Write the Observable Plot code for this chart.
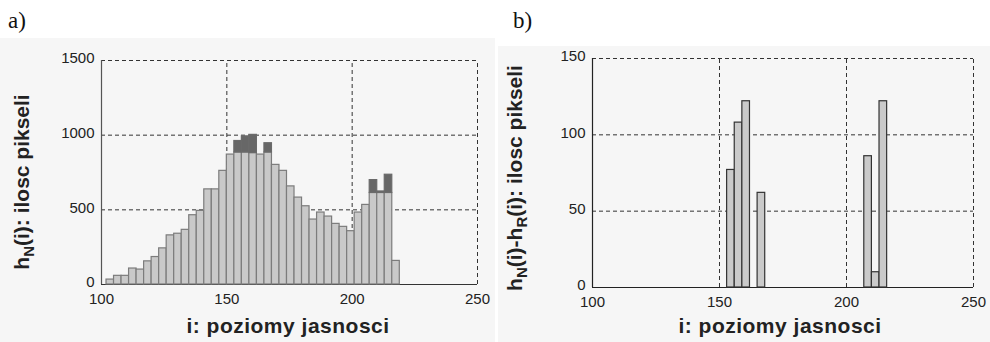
<!DOCTYPE html>
<html><head><meta charset="utf-8">
<script src="https://cdn.jsdelivr.net/npm/d3@7"></script>
<script src="https://cdn.jsdelivr.net/npm/@observablehq/plot@0.6"></script>
<style>
body{margin:0;background:#fff;}
#wrap{position:relative;width:990px;height:342px;overflow:hidden;background:#fff;}
.lab{position:absolute;font-family:"Liberation Serif","Times New Roman",serif;font-size:23px;color:#111;line-height:1;}
.panel{position:absolute;}
</style></head><body>
<div id="wrap">
<div class="lab" style="left:8px;top:9px">a)</div>
<div class="lab" style="left:513px;top:9px">b)</div>
<div class="panel" id="pa" style="left:0px;top:38px"></div>
<div class="panel" id="pb" style="left:498px;top:46px"></div>
</div>
<script>
// grey-level bins (start of each bin, width 3)
const binStart = [102,105,108,111,114,117,120,123,126,129,132,135,138,141,144,147,150,153,156,159,162,165,168,171,174,177,180,183,186,189,192,195,198,201,204,207,210,213,216];
const binWidth = 3;
// h_R(i): light part of left histogram
const hR = [33,58,58,107,100,155,184,242,329,340,366,464,493,637,637,761,870,884,884,880,870,884,801,761,657,582,524,435,482,455,406,386,357,482,533,613,613,613,158];
// h_N(i)-h_R(i): difference (dark part, right chart)
const diff = [0,0,0,0,0,0,0,0,0,0,0,0,0,0,0,0,0,77,108,122,0,62,0,0,0,0,0,0,0,0,0,0,0,0,0,86,10,122,0];
const xTicks = [100,150,200,250];
const yTicksA = [0,500,1000,1500];
const yTicksB = [0,50,100,150];
const xTitle = "i: poziomy jasnosci";

const rows = binStart.map((s,i)=>({x1:s, x2:s+binWidth, light:hR[i], diff:diff[i]}));
const dash = {stroke:"#333", strokeWidth:1, strokeDasharray:"4,3"};
const fontStyle = {fontFamily:"Arial, 'Liberation Sans', sans-serif", fontSize:"15px", background:"#f6f6f6", color:"#222"};
const fmt = d => String(d);

const A = Plot.plot({
  width:495, height:304,
  marginLeft:101, marginRight:18, marginTop:22, marginBottom:58,
  style:fontStyle,
  x:{domain:[100,250]},
  y:{domain:[0,1500]},
  marks:[
    Plot.ruleY(yTicksA.filter(v=>v>0), {y:d=>d, x1:100, x2:250, ...dash}),
    Plot.ruleX(xTicks.filter(v=>v>100), {x:d=>d, y1:0, y2:1500, ...dash}),
    Plot.ruleY([0], {x1:100, x2:250, stroke:"#333", strokeWidth:1.2}),
    Plot.ruleX([100], {y1:0, y2:1500, stroke:"#555", strokeWidth:1.2}),
    Plot.rect(rows, {x1:"x1", x2:"x2", y1:0, y2:"light", fill:"#c9c9c9", stroke:"#7c7c7c", strokeWidth:1.2, inset:0}),
    Plot.rect(rows.filter(d=>d.diff>0), {x1:"x1", x2:"x2", y1:"light", y2:d=>d.light+d.diff, fill:"#676767", stroke:"#6a6a6a", strokeWidth:1.2, inset:0}),
    Plot.axisY(yTicksA, {tickSize:0, tickPadding:7, tickFormat:fmt, label:null, fill:"#222", fontSize:15, dy:-2}),
    Plot.axisX(xTicks, {tickSize:0, tickPadding:9, tickFormat:fmt, label:null, fill:"#222", fontSize:15})
  ]
});
document.getElementById("pa").appendChild(A);

const B = Plot.plot({
  width:492, height:296,
  marginLeft:94, marginRight:17, marginTop:12, marginBottom:55,
  style:fontStyle,
  x:{domain:[100,250]},
  y:{domain:[0,150]},
  marks:[
    Plot.ruleY(yTicksB.filter(v=>v>0), {y:d=>d, x1:100, x2:250, ...dash}),
    Plot.ruleX(xTicks.filter(v=>v>100), {x:d=>d, y1:0, y2:150, ...dash}),
    Plot.ruleY([0], {x1:100, x2:250, stroke:"#222", strokeWidth:1.2}),
    Plot.ruleX([100], {y1:0, y2:150, stroke:"#222", strokeWidth:1.2}),
    Plot.rect(rows.filter(d=>d.diff>0), {x1:"x1", x2:"x2", y1:0, y2:"diff", fill:"#cacaca", stroke:"#333", strokeWidth:1.2, inset:0}),
    Plot.axisY(yTicksB, {tickSize:0, tickPadding:7, tickFormat:fmt, label:null, fill:"#222", fontSize:15, dy:-2}),
    Plot.axisX(xTicks, {tickSize:0, tickPadding:9, tickFormat:fmt, label:null, fill:"#222", fontSize:15})
  ]
});
document.getElementById("pb").appendChild(B);

function addTitles(svg, xCenter, xBase, yX, yCenter, parts){
  const s = d3.select(svg);
  s.append("text").attr("x", xCenter).attr("y", xBase).attr("text-anchor","middle")
    .attr("font-family","Arial, 'Liberation Sans', sans-serif").attr("font-weight","bold")
    .attr("font-size",21).attr("letter-spacing","0.5px").attr("fill","#222").text(xTitle);
  const t = s.append("text").attr("transform",`translate(${yX},${yCenter}) rotate(-90)`)
    .attr("text-anchor","middle")
    .attr("font-family","Arial, 'Liberation Sans', sans-serif").attr("font-weight","bold")
    .attr("font-size",21).attr("fill","#222");
  parts.forEach(p=>{
    const ts = t.append("tspan").text(p.t);
    if(p.sub){ ts.attr("dy",5).attr("font-size",15); }
    else if(p.after){ ts.attr("dy",-5); }
  });
}
addTitles(A, 288, 295, 29, 144, [{t:"h"},{t:"N",sub:true},{t:"(i): ilosc pikseli",after:true}]);
addTitles(B, 282, 287, 24, 132, [{t:"h"},{t:"N",sub:true},{t:"(i)-h",after:true},{t:"R",sub:true},{t:"(i): ilosc pikseli",after:true}]);
</script>
</body></html>
